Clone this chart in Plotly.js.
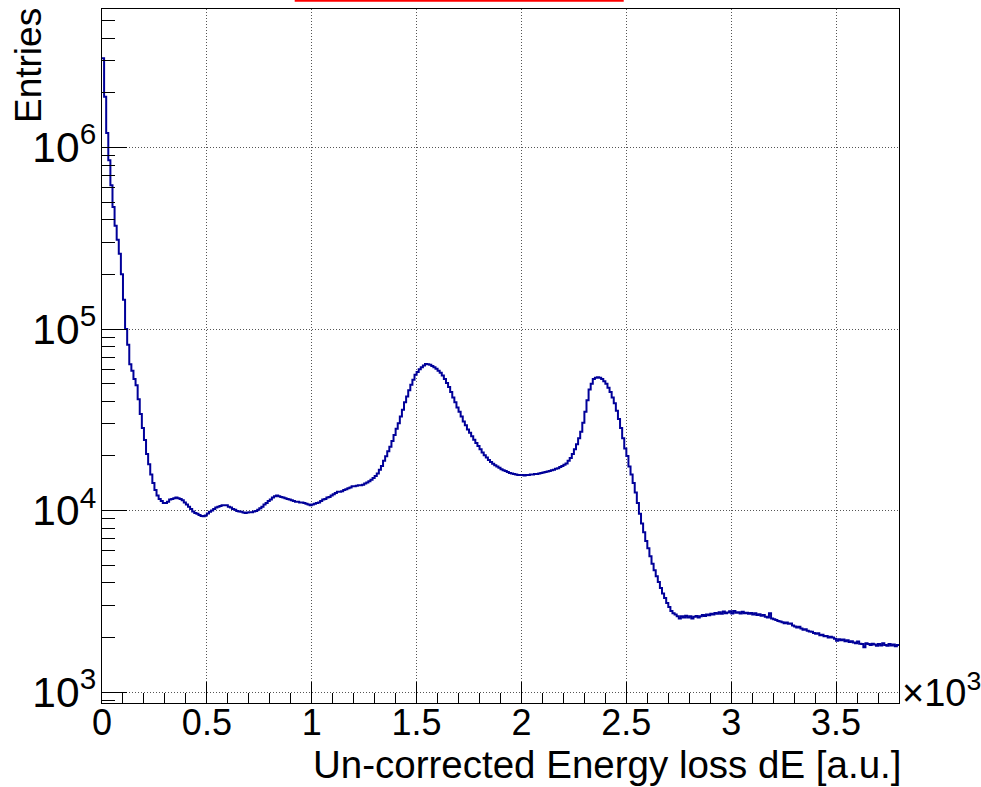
<!DOCTYPE html>
<html>
<head>
<meta charset="utf-8">
<script src="https://cdn.plot.ly/plotly-3.0.1.min.js"></script>
<style>html,body{margin:0;padding:0;background:#fff;}#chart{width:981px;height:787px;}</style>
</head>
<body>
<div id="chart"></div>
<script>
// Histogram definition (x in units of 10^3 a.u.)
const binWidth = 0.01;
const xMin = 0;

// Bin contents (Entries per bin)
const counts = [
  3.1e6, 1.9e6, 1.2e6, 8.5e5, 6.2e5, 4.7e5, 3.7e5, 3.1e5, 2.6e5, 2.0e5,
  1.45e5, 1.0e5, 8.2e4, 6.4e4, 5.9e4, 5.3e4, 4.9e4, 4.1e4, 3.4e4, 2.85e4,
  2.45e4, 2.05e4, 1.8e4, 1.58e4, 1.42e4, 1.30e4, 1.21e4, 1.16e4, 1.13e4, 1.10e4,
  1.10e4, 1.12e4, 1.15e4, 1.16e4, 1.17e4, 1.18e4, 1.17e4, 1.16e4, 1.14e4, 1.11e4,
  1.08e4, 1.05e4, 1.02e4, 9.9e3, 9.7e3, 9.6e3, 9.45e3, 9.35e3, 9.3e3, 9.4e3,
  9.65e3, 9.85e3, 1.0e4, 1.02e4, 1.04e4, 1.05e4, 1.06e4, 1.07e4, 1.07e4, 1.07e4,
  1.05e4, 1.04e4, 1.02e4, 1.01e4, 9.95e3, 9.9e3, 9.85e3, 9.75e3, 9.7e3, 9.75e3,
  9.8e3, 9.8e3, 9.9e3, 9.95e3, 1.01e4, 1.03e4, 1.05e4, 1.08e4, 1.10e4, 1.13e4,
  1.15e4, 1.18e4, 1.20e4, 1.21e4, 1.20e4, 1.19e4, 1.18e4, 1.17e4, 1.16e4, 1.15e4,
  1.14e4, 1.13e4, 1.12e4, 1.12e4, 1.11e4, 1.11e4, 1.10e4, 1.09e4, 1.08e4, 1.07e4,
  1.08e4, 1.09e4, 1.10e4, 1.11e4, 1.13e4, 1.15e4, 1.16e4, 1.18e4, 1.19e4, 1.21e4,
  1.23e4, 1.25e4, 1.27e4, 1.27e4, 1.28e4, 1.30e4, 1.31e4, 1.33e4, 1.34e4, 1.36e4,
  1.36e4, 1.37e4, 1.38e4, 1.38e4, 1.39e4, 1.41e4, 1.43e4, 1.45e4, 1.48e4, 1.51e4,
  1.55e4, 1.60e4, 1.68e4, 1.76e4, 1.88e4, 1.99e4, 2.12e4, 2.25e4, 2.42e4, 2.61e4,
  2.82e4, 3.03e4, 3.3e4, 3.59e4, 3.95e4, 4.25e4, 4.6e4, 4.93e4, 5.25e4, 5.6e4,
  5.8e4, 6.01e4, 6.15e4, 6.3e4, 6.41e4, 6.4e4, 6.35e4, 6.25e4, 6.15e4, 6.05e4,
  5.9e4, 5.75e4, 5.55e4, 5.3e4, 5.05e4, 4.8e4, 4.5e4, 4.2e4, 3.95e4, 3.7e4,
  3.5e4, 3.3e4, 3.1e4, 2.95e4, 2.8e4, 2.68e4, 2.57e4, 2.46e4, 2.36e4, 2.27e4,
  2.18e4, 2.09e4, 2.02e4, 1.96e4, 1.90e4, 1.85e4, 1.81e4, 1.78e4, 1.75e4, 1.72e4,
  1.69e4, 1.67e4, 1.65e4, 1.63e4, 1.61e4, 1.60e4, 1.59e4, 1.58e4, 1.57e4, 1.57e4,
  1.57e4, 1.56e4, 1.57e4, 1.57e4, 1.58e4, 1.58e4, 1.59e4, 1.59e4, 1.60e4, 1.61e4,
  1.62e4, 1.63e4, 1.64e4, 1.65e4, 1.67e4, 1.68e4, 1.70e4, 1.71e4, 1.74e4, 1.76e4,
  1.79e4, 1.82e4, 1.88e4, 1.95e4, 2.05e4, 2.18e4, 2.32e4, 2.5e4, 2.72e4, 3.05e4,
  3.5e4, 4.05e4, 4.65e4, 5.0e4, 5.3e4, 5.4e4, 5.43e4, 5.4e4, 5.3e4, 5.15e4,
  5.0e4, 4.75e4, 4.5e4, 4.2e4, 3.9e4, 3.55e4, 3.2e4, 2.85e4, 2.5e4, 2.2e4,
  2.0e4, 1.75e4, 1.58e4, 1.42e4, 1.26e4, 1.1e4, 9.6e3, 8.5e3, 7.6e3, 6.8e3,
  6.2e3, 5.6e3, 5.1e3, 4.7e3, 4.35e3, 4.05e3, 3.75e3, 3.5e3, 3.3e3, 3.1e3,
  2.95e3, 2.8e3, 2.72e3, 2.68e3, 2.62e3, 2.55e3, 2.62e3, 2.58e3, 2.64e3, 2.58e3,
  2.62e3, 2.55e3, 2.6e3, 2.63e3, 2.58e3, 2.62e3, 2.66e3, 2.63e3, 2.68e3, 2.65e3,
  2.7e3, 2.68e3, 2.73e3, 2.7e3, 2.76e3, 2.7e3, 2.78e3, 2.72e3, 2.75e3, 2.79e3,
  2.71e3, 2.8e3, 2.74e3, 2.76e3, 2.71e3, 2.77e3, 2.72e3, 2.74e3, 2.7e3, 2.73e3,
  2.68e3, 2.72e3, 2.66e3, 2.69e3, 2.64e3, 2.66e3, 2.6e3, 2.58e3, 2.72e3, 2.55e3,
  2.52e3, 2.5e3, 2.47e3, 2.45e3, 2.43e3, 2.4e3, 2.42e3, 2.38e3, 2.39e3, 2.33e3,
  2.3e3, 2.27e3, 2.29e3, 2.24e3, 2.21e3, 2.22e3, 2.18e3, 2.16e3, 2.15e3, 2.12e3,
  2.1e3, 2.11e3, 2.06e3, 2.07e3, 2.03e3, 2.04e3, 2.0e3, 2.02e3, 2.0e3, 1.97e3,
  1.92e3, 1.96e3, 1.93e3, 1.95e3, 1.91e3, 1.93e3, 1.89e3, 1.91e3, 1.88e3, 1.86e3,
  1.9e3, 1.85e3, 1.84e3, 1.77e3, 1.86e3, 1.84e3, 1.82e3, 1.85e3, 1.83e3, 1.8e3,
  1.84e3, 1.81e3, 1.86e3, 1.82e3, 1.8e3, 1.84e3, 1.81e3, 1.83e3, 1.79e3, 1.82e3
];

const xTitle = "Un-corrected Energy loss dE [a.u.]";
const yTitle = "Entries";
const xMultiplier = "×10<sup>3</sup>";

// Build step outline: low edges + final upper edge
const edges = counts.map((_, i) => +(xMin + i * binWidth).toFixed(4));
edges.push(+(xMin + counts.length * binWidth).toFixed(4));
const stepY = counts.concat([counts[counts.length - 1]]);

const FONT = "Liberation Sans, Arial, Helvetica, sans-serif";

const trace = {
  type: "scatter",
  mode: "lines",
  x: edges,
  y: stepY,
  line: {shape: "hv", color: "#000099", width: 2},
  hoverinfo: "x+y",
  showlegend: false
};

const layout = {
  width: 981,
  height: 787,
  margin: {l: 102, r: 82, t: 9, b: 84},
  paper_bgcolor: "#ffffff",
  plot_bgcolor: "#ffffff",
  font: {family: FONT, color: "#000", size: 36},
  showlegend: false,
  xaxis: {
    range: [0, 3.8],
    tick0: 0,
    dtick: 0.5,
    ticks: "inside",
    ticklen: 21,
    tickwidth: 1,
    tickcolor: "#000",
    tickfont: {family: FONT, size: 36, color: "#000"},
    ticklabelstandoff: -12,
    showline: true,
    linecolor: "#000",
    linewidth: 1,
    mirror: true,
    showgrid: true,
    gridcolor: "#555",
    griddash: "1px,2px",
    gridwidth: 1,
    zeroline: false,
    minor: {ticks: "inside", ticklen: 10, dtick: 0.1, tickcolor: "#000", tickwidth: 1, showgrid: false}
  },
  yaxis: {
    type: "log",
    range: [2.9405, 6.7625],
    dtick: 1,
    exponentformat: "power",
    ticks: "inside",
    ticklen: 25,
    tickwidth: 1,
    tickcolor: "#000",
    tickfont: {family: FONT, size: 34, color: "#000"},
    ticklabelstandoff: -2,
    showline: true,
    linecolor: "#000",
    linewidth: 1,
    mirror: true,
    showgrid: true,
    gridcolor: "#555",
    griddash: "1px,2px",
    gridwidth: 1,
    zeroline: false,
    minor: {ticks: "inside", ticklen: 13, dtick: "D1", tickcolor: "#000", tickwidth: 1, showgrid: false}
  },
  annotations: [
    {text: xTitle, xref: "paper", yref: "paper", x: 1, y: 0, xanchor: "right", yanchor: "top",
     xshift: 4, yshift: -38, showarrow: false, font: {family: FONT, size: 38.5, color: "#000"}},
    {text: yTitle, xref: "paper", yref: "paper", x: 0, y: 1, xanchor: "right", yanchor: "top",
     xshift: -51, yshift: 3, textangle: -90, showarrow: false, font: {family: FONT, size: 37, color: "#000"}},
    {text: xMultiplier, xref: "paper", yref: "paper", x: 1, y: 0, xanchor: "left", yanchor: "middle",
     xshift: 1, yshift: 13, showarrow: false, font: {family: FONT, size: 38, color: "#000"}}
  ],
  shapes: [
    {type: "rect", xref: "paper", yref: "paper", x0: 0.2418, x1: 0.6546, y0: 1.0105, y1: 1.03,
     line: {width: 0}, fillcolor: "#ff0000", layer: "above"}
  ]
};

Plotly.newPlot("chart", [trace], layout, {staticPlot: true, displayModeBar: false});
</script>
</body>
</html>
